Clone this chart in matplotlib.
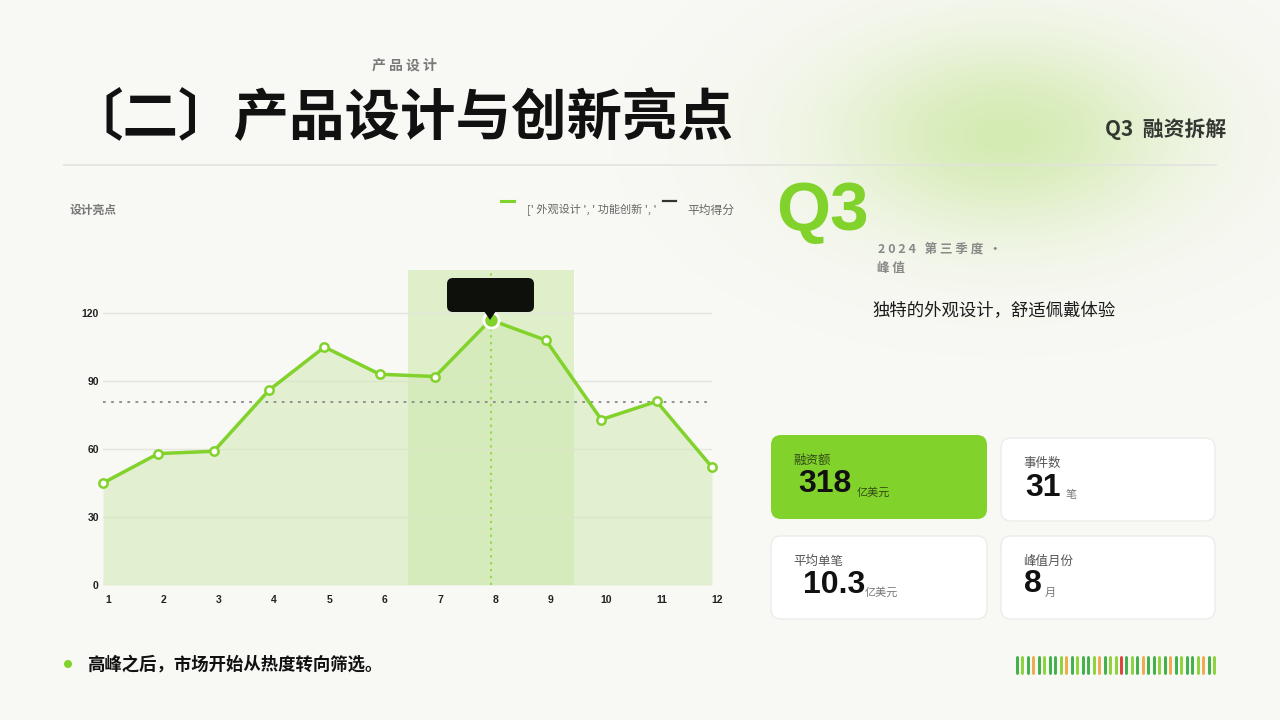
import numpy as np
import matplotlib.pyplot as plt
from matplotlib.patches import FancyBboxPatch, Polygon, Circle
import matplotlib.transforms as mtransforms

plt.rcParams['font.family'] = ['Noto Sans CJK SC', 'DejaVu Sans']

# data
months = np.arange(1, 13)
month_labels = [str(m) for m in months]
scores = np.array([45, 58, 59, 86, 105, 93, 92, 117, 108, 73, 81, 52])
avg_score = scores.mean()
y_ticks = [0, 30, 60, 90, 120]
peak_month = 8
band = (6.5, 9.5)

card_labels = ['融资额', '事件数', '平均单笔', '峰值月份']
card_values = ['318', '31', '10.3', '8']
card_units = ['亿美元', '笔', '亿美元', '月']

stripe_codes = list('GLGOGLGGLOGLGGLOGLLRGLGOGGLGOGLGGLOGL')
stripe_colors = {'G': '#3fb04a', 'L': '#8cd33a', 'O': '#eeaa4c', 'R': '#e0403a'}

GREEN = '#82d22c'
BG = '#f8f8f4'
NUM_FONT = ['Liberation Sans Narrow', 'Liberation Sans']

fig = plt.figure(figsize=(12.8, 7.2), dpi=100, facecolor=BG)

# overlay in pixel coords
ov = fig.add_axes([0, 0, 1, 1])
ov.axis('off')
ov.set_zorder(0)

# soft green glow top right
gx, gy = np.meshgrid(np.linspace(560, 1280, 360), np.linspace(0, 420, 210))
d = ((gx - 1005) / 150) ** 2 + ((gy - 135) / 85) ** 2
glow = np.zeros(gx.shape + (4,))
glow[..., 0] = 0.80
glow[..., 1] = 0.91
glow[..., 2] = 0.64
glow[..., 3] = 0.8 * np.exp(-d / 1.3)
ov.imshow(glow, extent=(560, 1280, 420, 0), interpolation='bilinear', aspect='auto', zorder=0)
ov.set_xlim(0, 1280)
ov.set_ylim(720, 0)

# header
ov.text(404, 66, '产 品 设 计', ha='center', va='center', fontsize=10, color='#7a7a7a', fontweight='bold')
ov.text(68, 118, '〔二〕产品设计与创新亮点', ha='left', va='center', fontsize=40,
        color='#111111', fontweight='bold')
ov.text(1226, 129, 'Q3  融资拆解', ha='right', va='center', fontsize=15,
        color='#333833', fontweight='bold')
ov.plot([64, 1216], [165, 165], color='#e2e3de', lw=1.2)

# chart labels / legend
ov.text(70, 210, '设计亮点', ha='left', va='center', fontsize=8.5, color='#777777', fontweight='bold')
ov.plot([501, 514], [201, 201], color=GREEN, lw=2.2)
ov.text(527, 210, "[' 外观设计 ', ' 功能创新 ', '", ha='left', va='center', fontsize=8,
        color='#666666')
ov.plot([663, 676], [201, 201], color='#333333', lw=1.6)
ov.text(687, 210, '平均得分', ha='left', va='center', fontsize=8.5, color='#666666')

# chart
ax = fig.add_axes([103 / 1280, 1 - 585 / 720, 609 / 1280, 315 / 720])
ax.set_zorder(1)
ax.patch.set_alpha(0)
ax.set_xlim(1, 12)
ax.set_ylim(0, 139)
ax.axvspan(band[0], band[1], color='#d6ecbd', alpha=0.75, lw=0, zorder=0)
ax.fill_between(months, scores, 0, color='#cfe8b0', alpha=0.5, lw=0, zorder=1)
for t in y_ticks:
    ax.axhline(t, color='#e4e6df', lw=1, zorder=0.5)
ax.axhline(avg_score, color='#888888', lw=1.3, ls=(0, (1.5, 3)), zorder=2)
ax.axvline(peak_month, color=GREEN, lw=1.1, ls=(0, (1.5, 3)), zorder=2)
ax.plot(months, scores, color=GREEN, lw=2.5, marker='o', ms=6, mfc='white',
        mec=GREEN, mew=1.8, zorder=3, clip_on=False)
ax.plot([peak_month], [scores[peak_month - 1]], marker='o', ms=11, mfc=GREEN,
        mec='white', mew=2, zorder=4, clip_on=False)
ax.set_yticks(y_ticks)
ax.set_yticklabels([str(t) for t in y_ticks], family=NUM_FONT, fontweight='bold',
                   fontsize=7.5, color='#222222')
ax.set_xticks(months)
ax.set_xticklabels([])
# x labels drawn slightly right of each point
shift = mtransforms.ScaledTranslation(5 / 100, -15 / 100, fig.dpi_scale_trans)
xt = ax.get_xaxis_transform() + shift
for m, lab in zip(months, month_labels):
    ax.text(m, 0, lab, transform=xt, ha='center', va='center', family=NUM_FONT,
            fontweight='bold', fontsize=7.5, color='#222222', clip_on=False)
ax.tick_params(axis='x', length=0)
ax.tick_params(axis='y', length=0, pad=3)
for s in ax.spines.values():
    s.set_visible(False)

# tooltip over peak
ov2 = fig.add_axes([0, 0, 1, 1])
ov2.set_xlim(0, 1280)
ov2.set_ylim(720, 0)
ov2.axis('off')
ov2.set_zorder(2)
ov2.add_patch(FancyBboxPatch((447, 278), 87, 34, boxstyle='round,pad=0,rounding_size=6',
                             fc='#0e100c', ec='none'))
ov2.add_patch(Polygon([[484, 311], [496, 311], [490, 320]], closed=True, fc='#0e100c', ec='none'))

# Q3 block
ov2.text(776, 212, 'Q3', ha='left', va='center', fontsize=50, color=GREEN,
         fontweight='bold', family=['Liberation Sans', 'DejaVu Sans'])
ov2.text(878, 249, '2 0 2 4   第 三 季 度  ·', ha='left', va='center', fontsize=9,
         color='#888888', fontweight='bold')
ov2.text(877, 268, '峰 值', ha='left', va='center', fontsize=9, color='#888888', fontweight='bold')
ov2.text(872, 310, '独特的外观设计，舒适佩戴体验', ha='left', va='center', fontsize=12.5,
         color='#1a1a1a')

# cards
boxes = [(771, 435, 216, 84), (1001, 438, 214, 83), (771, 536, 216, 83), (1001, 536, 214, 83)]
val_off = [(27, 49), (24, 50), (32, 49), (23, 48)]
unit_off = [(86, 58), (65, 57), (94, 57), (44, 57)]
for i, (x0, y0, w, h) in enumerate(boxes):
    fc = GREEN if i == 0 else 'white'
    ec = 'none' if i == 0 else '#ececea'
    ov2.add_patch(FancyBboxPatch((x0, y0), w, h, boxstyle='round,pad=0,rounding_size=10',
                                 fc=fc, ec=ec, lw=1))
    lab_col = '#2f4a15' if i == 0 else '#555555'
    ov2.text(x0 + 22, y0 + 25, card_labels[i], ha='left', va='center', fontsize=9,
             color=lab_col)
    ov2.text(x0 + val_off[i][0], y0 + val_off[i][1], card_values[i], ha='left', va='center',
             fontsize=23, fontweight='bold', color='#111111',
             family=['Liberation Sans', 'DejaVu Sans'])
    unit_col = '#2f4a15' if i == 0 else '#777777'
    ov2.text(x0 + unit_off[i][0], y0 + unit_off[i][1], card_units[i], ha='left', va='center',
             fontsize=8, color=unit_col)

# bottom note
ov2.add_patch(Circle((68, 664), 4, fc=GREEN, ec='none'))
ov2.text(87, 665, '高峰之后，市场开始从热度转向筛选。', ha='left', va='center', fontsize=12.5,
         color='#111111', fontweight='bold')

# stripes
sx = np.linspace(1017, 1214, len(stripe_codes))
for x, c in zip(sx, stripe_codes):
    ov2.plot([x, x], [657, 673], color=stripe_colors[c], lw=2.1, solid_capstyle='round')

fig.savefig('out.png', dpi=100, facecolor=BG)
